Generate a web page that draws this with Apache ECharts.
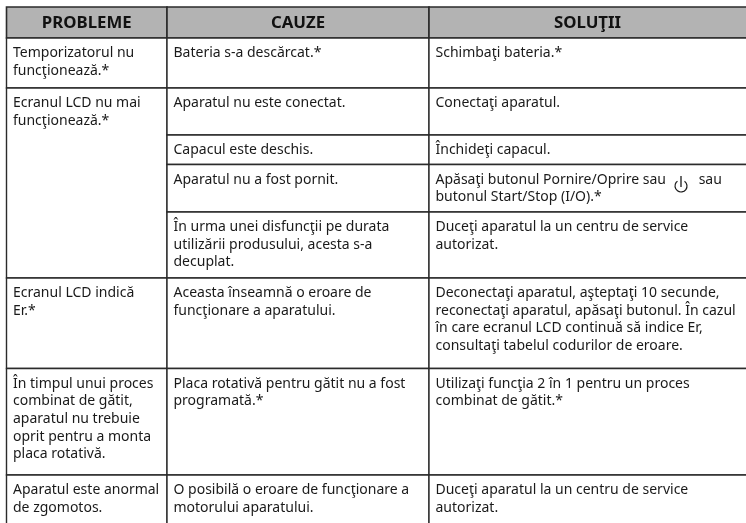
<!DOCTYPE html>
<html><head><meta charset="utf-8">
<style>html,body{margin:0;padding:0;background:#fff}#c{width:746px;height:523px}</style>
<script src="https://cdn.jsdelivr.net/npm/echarts@6/dist/echarts.min.js"></script>
</head><body><div id="c"></div>
<script>
const columnEdges = [6.5, 167, 429, 752];
const rowEdges = [7, 38, 88, 135, 164.5, 212, 278, 368.5, 475, 530];
const headers = ['PROBLEME', 'CAUZE', 'SOLUŢII'];
// [text, first row, last row]
const problems = [
  ['Temporizatorul nu\nfuncţionează.*', 1, 1],
  ['Ecranul LCD nu mai\nfuncţionează.*', 2, 5],
  ['Ecranul LCD indică\nEr.*', 6, 6],
  ['În timpul unui proces\ncombinat de gătit,\naparatul nu trebuie\noprit pentru a monta\nplaca rotativă.', 7, 7],
  ['Aparatul este anormal\nde zgomotos.', 8, 8]
];
const causes = [
  ['Bateria s-a descărcat.*', 1, 1],
  ['Aparatul nu este conectat.', 2, 2],
  ['Capacul este deschis.', 3, 3],
  ['Aparatul nu a fost pornit.', 4, 4],
  ['În urma unei disfuncţii pe durata\nutilizării produsului, acesta s-a\ndecuplat.', 5, 5],
  ['Aceasta înseamnă o eroare de\nfuncţionare a aparatului.', 6, 6],
  ['Placa rotativă pentru gătit nu a fost\nprogramată.*', 7, 7],
  ['O posibilă o eroare de funcţionare a\nmotorului aparatului.', 8, 8]
];
const solutions = [
  ['Schimbaţi bateria.*', 1, 1],
  ['Conectaţi aparatul.', 2, 2],
  ['Închideţi capacul.', 3, 3],
  ['Apăsaţi butonul Pornire/Oprire sau         sau\nbutonul Start/Stop (I/O).*', 4, 4],
  ['Duceţi aparatul la un centru de service\nautorizat.', 5, 5],
  ['Deconectaţi aparatul, aşteptaţi 10 secunde,\nreconectaţi aparatul, apăsaţi butonul. În cazul\nîn care ecranul LCD continuă să indice Er,\nconsultaţi tabelul codurilor de eroare.', 6, 6],
  ['Utilizaţi funcţia 2 în 1 pentru un proces\ncombinat de gătit.*', 7, 7],
  ['Duceţi aparatul la un centru de service\nautorizat.', 8, 8]
];
const powerIcon = [681, 186];

const FONT = '"Noto Sans", sans-serif';
const cols = [problems, causes, solutions];
const cellData = [];
headers.forEach((h, c) => cellData.push({ value: [c, 0, 0], text: h, header: true }));
cols.forEach((col, c) => col.forEach(r => cellData.push({ value: [c, r[1], r[2]], text: r[0], header: false })));

const chart = echarts.init(document.getElementById('c'), null, { renderer: 'canvas' });
chart.setOption({
  animation: false,
  grid: { left: 0, right: 0, top: 0, bottom: 0 },
  xAxis: { type: 'value', min: 0, max: 746, show: false },
  yAxis: { type: 'value', min: 0, max: 523, inverse: true, show: false },
  series: [
    {
      type: 'custom', coordinateSystem: 'cartesian2d', silent: true, clip: false,
      data: cellData,
      renderItem(params, api) {
        const d = cellData[params.dataIndex];
        const c = api.value(0), r0 = api.value(1), r1 = api.value(2);
        const tl = api.coord([columnEdges[c], rowEdges[r0]]);
        const br = api.coord([columnEdges[c + 1], rowEdges[r1 + 1]]);
        const children = [{
          type: 'rect',
          shape: { x: tl[0], y: tl[1], width: br[0] - tl[0], height: br[1] - tl[1] },
          style: { fill: d.header ? '#b3b3b3' : '#fff', stroke: '#2b2b2b', lineWidth: d.header ? 1.6 : 1.4 }
        }];
        if (d.header) {
          children.push({
            type: 'text',
            style: { x: (tl[0] + (c === 2 ? 746 : br[0])) / 2, y: (tl[1] + br[1]) / 2 + 0.5, text: d.text, fill: '#111', align: 'center', verticalAlign: 'middle',
              font: 'bold 16.8px ' + FONT }
          });
        } else {
          children.push({
            type: 'text',
            style: { x: tl[0] + 6.5, y: tl[1] + 6.5, text: d.text, fill: '#1a1a1a', align: 'left', verticalAlign: 'top',
              font: '14px ' + FONT, lineHeight: 17.6 }
          });
        }
        return { type: 'group', children };
      }
    },
    {
      type: 'custom', coordinateSystem: 'cartesian2d', silent: true, clip: false,
      data: [powerIcon],
      renderItem(params, api) {
        const p = api.coord([api.value(0), api.value(1)]);
        return { type: 'group', children: [
          { type: 'arc', shape: { cx: p[0], cy: p[1], r: 6, startAngle: -Math.PI * 0.3, endAngle: Math.PI * 1.3, clockwise: true },
            style: { fill: 'none', stroke: '#1a1a1a', lineWidth: 1.2 } },
          { type: 'line', shape: { x1: p[0], y1: p[1] - 10, x2: p[0], y2: p[1] + 1 },
            style: { stroke: '#1a1a1a', lineWidth: 1.3 } }
        ] };
      }
    }
  ]
});
</script></body></html>
